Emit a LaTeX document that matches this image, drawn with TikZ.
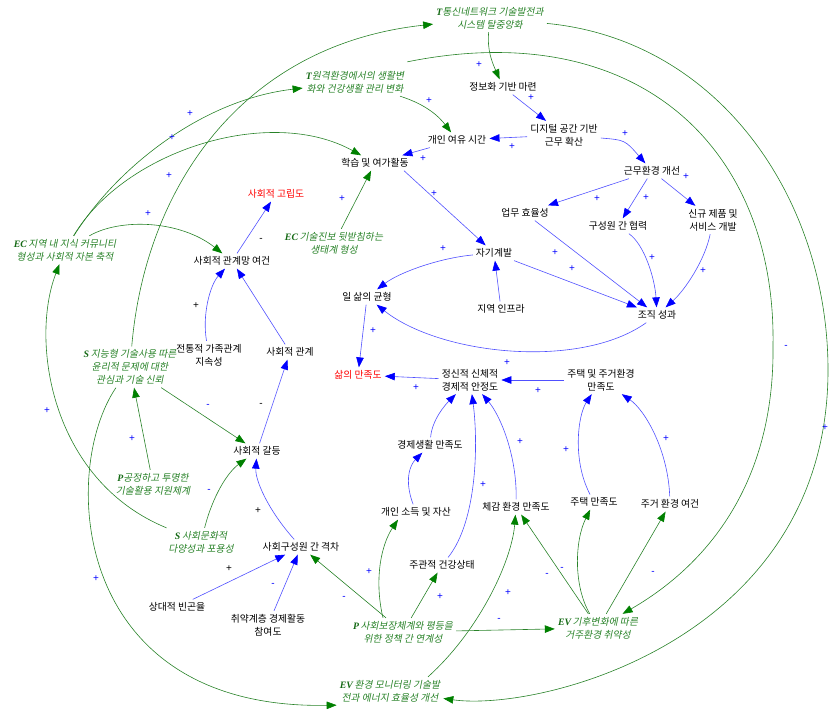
\documentclass[tikz,border=0pt]{standalone}
\usepackage{fontspec}
\usetikzlibrary{arrows.meta}

% fonts: Korean body text, a slanted cut for policy variables, serif tags, sign marks
\newfontfamily\kr{Noto Sans CJK KR}
\newfontfamily\krit{Noto Sans CJK KR}[FakeSlant=0.2]
\newfontfamily\tagfont{Liberation Serif}
\newfontfamily\signfont{Liberation Sans}
\newcommand\lettag[1]{{\tagfont\bfseries\itshape\color{tagtext}#1}}

\definecolor{linkblue}{RGB}{80,80,255}
\definecolor{tipblue}{RGB}{0,0,255}
\definecolor{linkgreen}{RGB}{40,130,40}
\definecolor{tipgreen}{RGB}{0,128,0}
\definecolor{poltext}{RGB}{40,130,40}
\definecolor{tagtext}{RGB}{20,105,20}

\begin{document}
\begin{tikzpicture}[x=1pt,y=-1pt,
  var/.style={font=\kr\fontsize{9.8}{13}\selectfont, align=center, inner sep=3pt, text=black},
  riskvar/.style={var, text=red},
  pol/.style={font=\krit\fontsize{9.8}{13}\selectfont, align=center, inner sep=3pt, text=poltext},
  bl/.style={draw=linkblue, line width=0.6pt, -{Triangle[length=10pt,width=7.5pt,color=tipblue]}},
  gl/.style={draw=linkgreen, line width=0.6pt, -{Triangle[length=10pt,width=7.5pt,color=tipgreen]}},
  sg/.style={font=\signfont\fontsize{10}{10}\selectfont, text=blue, inner sep=0pt},
  sgk/.style={sg, text=black}]

\useasboundingbox (0,0) rectangle (829,714);

% ---------- policy / driver variables ----------
\node[pol] (t1)  at (490,18)  {\lettag{T}통신네트워크 기술발전과\\시스템 탈중앙화};
\node[pol] (t2)  at (355,82)  {\lettag{T}원격환경에서의 생활변\\화와 건강생활 관리 변화};
\node[pol] (ec1) at (65,250)  {\lettag{EC}\,지역 내 지식 커뮤니티\\형성과 사회적 자본 축적};
\node[pol] (ec2) at (334,243) {\lettag{EC}\,기술진보 뒷받침하는\\생태계 형성};
\node[pol] (s1)  at (130,367) {\lettag{S}\,지능형 기술사용 따른\\윤리적 문제에 대한\\관심과 기술 신뢰};
\node[pol] (p1)  at (153,484) {\lettag{P}공정하고 투명한\\기술활용 지원체계};
\node[pol] (s2)  at (201,542) {\lettag{S}\,사회문화적\\다양성과 포용성};
\node[pol] (p2)  at (403,632) {\lettag{P}\,사회보장체계와 평등을\\위한 정책 간 연계성};
\node[pol] (ev1) at (598,628) {\lettag{EV}\,기후변화에 따른\\거주환경 취약성};
\node[pol] (ev2) at (390,691) {\lettag{EV}\,환경 모니터링 기술발\\전과 에너지 효율성 개선};

% ---------- system variables ----------
\node[var] (info)  at (503,87)  {정보화 기반 마련};
\node[var] (digi)  at (564,135) {디지털 공간 기반\\근무 확산};
\node[var] (spare) at (457,140) {개인 여유 시간};
\node[var] (learn) at (375,163) {학습 및 여가활동};
\node[var] (work)  at (652,171) {근무환경 개선};
\node[var] (eff)   at (525,213) {업무 효율성};
\node[var] (coop)  at (618,226) {구성원 간 협력};
\node[var] (newp)  at (713,220) {신규 제품 및\\서비스 개발};
\node[var] (self)  at (494,253) {자기계발};
\node[var] (wlb)   at (367,297) {일 삶의 균형};
\node[var] (infra) at (501,309) {지역 인프라};
\node[var] (org)   at (657,315) {조직 성과};
\node[riskvar] (iso) at (276,194) {사회적 고립도};
\node[var] (net)   at (232,261) {사회적 관계망 여건};
\node[var] (fam)   at (209,355) {전통적 가족관계\\지속성};
\node[var] (rel)   at (290,352) {사회적 관계};
\node[riskvar] (life) at (358,375) {삶의 만족도};
\node[var] (stab)  at (470,380) {정신적 신체적\\경제적 안정도};
\node[var] (house) at (601,380) {주택 및 주거환경\\만족도};
\node[var] (econ)  at (430,445) {경제생활 만족도};
\node[var] (inc)   at (416,512) {개인 소득 및 자산};
\node[var] (envs)  at (516,507) {체감 환경 만족도};
\node[var] (hsat)  at (594,502) {주택 만족도};
\node[var] (hcond) at (670,504) {주거 환경 여건};
\node[var] (health) at (442,565) {주관적 건강상태};
\node[var] (conf)  at (257,451) {사회적 갈등};
\node[var] (gap)   at (301,547) {사회구성원 간 격차};
\node[var] (pov)   at (177,607) {상대적 빈곤율};
\node[var] (vul)   at (268,625) {취약계층 경제활동\\참여도};

% bend points of the two long outer loops
\coordinate (innerbend) at (773,345);
\coordinate (outerbend) at (828,370);

% ---------- causal links among system variables ----------
\draw[bl] (info) -- (digi);
\draw[bl] (digi) -- (spare);
\draw[bl] (spare) -- (learn);
\draw[bl] (digi) .. controls (625,140) .. (work);
\draw[bl] (work) -- (eff);
\draw[bl] (work) -- (coop);
\draw[bl] (work) -- (newp);
\draw[bl] (eff) -- (org);
\draw[bl] (coop) .. controls (645,245) and (655,280) .. (org);
\draw[bl] (newp) .. controls (705,260) and (685,290) .. (org);
\draw[bl] ([xshift=-8pt]learn.south east) -- (self);
\draw[bl] (self) -- (org);
\draw[bl] (infra) -- (self);
\draw[bl] (self) .. controls (440,258) and (400,272) .. (wlb);
\draw[bl] (org) .. controls (580,370) and (440,355) .. (wlb);
\draw[bl] (wlb) -- (life);
\draw[bl] (stab) -- (life);
\draw[bl] (house) -- (stab);
\draw[bl] (econ) .. controls (432,420) and (445,405) .. (stab);
\draw[bl] (health) .. controls (478,520) and (478,440) .. (stab);
\draw[bl] (envs) .. controls (517,455) and (500,415) .. (stab);
\draw[bl] (inc) .. controls (404,480) and (410,465) .. (econ);
\draw[bl] (hsat) .. controls (572,460) and (578,415) .. (house);
\draw[bl] (hcond) .. controls (668,450) and (645,410) .. (house);
\draw[bl] (net) -- (iso);
\draw[bl] (fam) .. controls (202,315) and (210,285) .. (net);
\draw[bl] (rel) -- (net);
\draw[bl] (conf) -- (rel);
\draw[bl] (gap) .. controls (268,510) and (255,480) .. (conf);
\draw[bl] (pov) -- (gap);
\draw[bl] (vul) -- (gap);

% ---------- links from policy / driver variables ----------
\draw[gl] (t1) .. controls (487,50) and (492,62) .. (info);
\draw[gl] (t2) .. controls (428,105) and (440,118) .. (spare);
\draw[gl] (ec2) -- (learn);
\draw[gl] (ec1) .. controls (115,170) and (200,100) .. (t2);
\draw[gl] (ec1) .. controls (125,150) and (270,105) .. (learn);
\draw[gl] (s1) .. controls (145,190) and (240,45) .. (t1);
\draw[gl] (ec1) .. controls (120,218) and (180,220) .. (net);
\draw[gl] ([yshift=6pt]t2.north east) .. controls (640,15) and (776,150) .. (innerbend)
          .. controls (775,500) and (690,575) .. (ev1);
\draw[gl] (t1) .. controls (720,40) and (828,200) .. (outerbend)
          .. controls (828,640) and (540,712) .. (ev2);
\draw[gl] ([xshift=38pt]ev2.north) .. controls (480,630) and (512,560) .. (envs);
\draw[gl] (p2) -- (gap);
\draw[gl] (p2) -- (health);
\draw[gl] ([xshift=-20pt]p2.north) .. controls (374,580) and (381,545) .. ([xshift=-18pt]inc.south);
\draw[gl] (p2) -- (ev1);
\draw[gl] (ev1) -- (envs);
\draw[gl] (ev1) .. controls (573,585) and (575,540) .. (hsat);
\draw[gl] (ev1) -- (hcond);
\draw[gl] (s1) -- (conf);
\draw[gl] (p1) -- (s1);
\draw[gl] (s2) .. controls (213,495) and (228,472) .. (conf);
\draw[gl] (s2) .. controls (50,480) and (30,340) .. (ec1);
\draw[gl] (s1) .. controls (60,470) and (70,710) .. (ev2.south west);

% ---------- polarity marks ----------
\node[sg] (q1)  at (531,98)  {+};
\node[sg] (q2)  at (512,147) {+};
\node[sg] (q3)  at (423,159) {+};
\node[sg] (q4)  at (625,134) {+};
\node[sg] (q5)  at (597,199) {+};
\node[sg] (q6)  at (646,198) {+};
\node[sg] (q7)  at (686,177) {+};
\node[sg] (q8)  at (434,194) {+};
\node[sg] (q9)  at (572,269) {+};
\node[sg] (q10) at (652,258) {+};
\node[sg] (q11) at (703,271) {+};
\node[sg] (q12) at (555,253) {+};
\node[sg] (q13) at (443,249) {+};
\node[sg] (q14) at (507,363) {+};
\node[sg] (q15) at (373,331) {+};
\node[sg] (q16) at (416,388) {+};
\node[sg] (q17) at (538,391) {+};
\node[sg] (q18) at (483,485) {+};
\node[sg] (q19) at (520,442) {+};
\node[sg] (q20) at (566,450) {+};
\node[sg] (q21) at (666,439) {+};
\node[sg] (q22) at (342,199) {+};
\node[sg] (q23) at (190,114) {+};
\node[sg] (q24) at (172,138) {+};
\node[sg] (q25) at (169,176) {+};
\node[sg] (q26) at (148,214) {+};
\node[sg] (q27) at (479,65)  {+};
\node[sg] (q28) at (429,101) {+};
\node[sg] (q29) at (47,411)  {+};
\node[sg] (q30) at (132,439) {+};
\node[sg] (q31) at (96,579)  {+};
\node[sg] (q32) at (369,572) {+};
\node[sg] (q33) at (440,597) {+};
\node[sg] (q34) at (508,593) {+};
\node[sg] (q35) at (825,428) {+};
\node[sg] (m1)  at (273,585) {-};
\node[sg] (m2)  at (208,406) {-};
\node[sg] (m3)  at (209,491) {-};
\node[sg] (m4)  at (344,598) {-};
\node[sg] (m5)  at (499,620) {-};
\node[sg] (m6)  at (547,575) {-};
\node[sg] (m7)  at (562,569) {-};
\node[sg] (m8)  at (653,573) {-};
\node[sg] (m9)  at (786,347) {-};
\node[sgk] (k1) at (261,240) {-};
\node[sgk] (k2) at (196,306) {+};
\node[sgk] (k3) at (261,405) {-};
\node[sgk] (k4) at (258,511) {+};
\node[sgk] (k5) at (229,569) {+};

\end{tikzpicture}
\end{document}
